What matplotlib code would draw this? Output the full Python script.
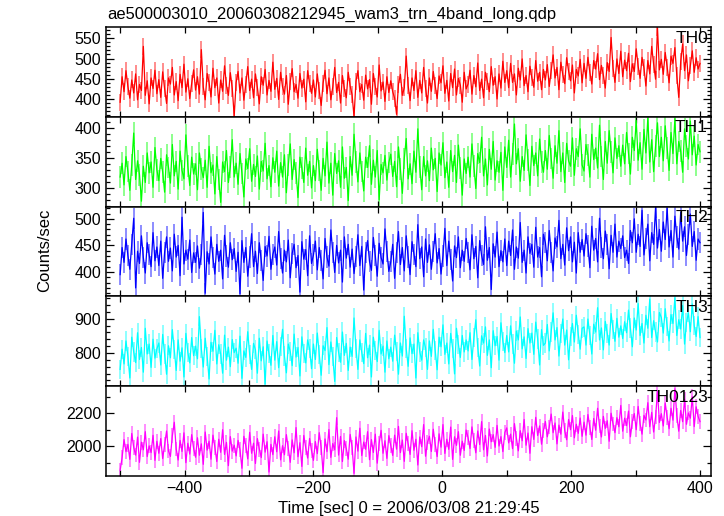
import matplotlib
matplotlib.use("Agg")
import matplotlib.pyplot as plt
from matplotlib.ticker import MultipleLocator
import numpy as np

plt.rcParams['font.family'] = ['Liberation Sans', 'DejaVu Sans']

title = "ae500003010_20060308212945_wam3_trn_4band_long.qdp"
bands = ["TH0", "TH1", "TH2", "TH3", "TH0123"]
colors = ["#ff0000", "#00ff00", "#0000ff", "#00ffff", "#ff00ff"]
light = ["#ff8c8c", "#8cff8c", "#8c8cff", "#8cffff", "#ff8cff"]

# time bins (sec from 2006/03/08 21:29:45), 3 s steps
t = np.arange(-500, 401, 3)

th0 = [392, 455, 418, 470, 431, 402, 447, 415, 462, 398, 436, 421, 530, 409, 445, 388, 452, 426, 471, 413,
       448, 404, 467, 425, 389, 452, 437, 478, 410, 443, 396, 461, 428, 486, 417, 450, 401, 439, 472, 422,
       455, 412, 522, 430, 398, 463, 441, 405, 476, 428, 452, 390, 447, 419, 482, 433, 409, 465, 426, 358,
       441, 468, 415, 452, 397, 437, 480, 421, 449, 403, 462, 428, 388, 455, 434, 473, 410, 446, 419, 491,
       424, 451, 399, 466, 430, 412, 458, 387, 443, 475, 418, 436, 402, 463, 427, 449, 393, 470, 438, 414,
       447, 405, 462, 420, 384, 439, 471, 413, 452, 398, 430, 478, 416, 441, 390, 458, 425, 403, 466, 432,
       410, 356, 444, 470, 418, 436, 397, 459, 425, 448, 387, 463, 431, 405, 484, 420, 442, 394, 455, 416,
       445, 418, 402, 362, 437, 461, 409, 428, 506, 433, 396, 452, 421, 470, 404, 446, 415, 478, 427, 390,
       452, 419, 468, 433, 401, 457, 440, 482, 414, 446, 395, 463, 428, 474, 410, 451, 434, 392, 466, 425,
       437, 471, 412, 458, 430, 489, 421, 449, 403, 466, 443, 418, 480, 434, 455, 400, 462, 427, 493, 441,
       470, 428, 488, 441, 462, 410, 476, 447, 499, 433, 458, 418, 481, 452, 429, 495, 444, 466, 423, 473,
       447, 485, 431, 470, 509, 452, 478, 423, 491, 460, 438, 502, 469, 445, 484, 415, 473, 457, 498, 440,
       488, 451, 503, 466, 437, 495, 474, 512, 448, 483, 459, 427, 490, 468, 552, 476, 441, 499, 463, 518,
       455, 496, 470, 513, 443, 487, 468, 524, 481, 451, 503, 477, 432, 495, 462, 530, 486, 449, 576, 472,
       498, 461, 515, 479, 440, 506, 488, 527, 457, 404, 492, 536, 470, 509, 445, 483, 519, 466, 502, 474,
       488]

th1 = [318, 341, 305, 352, 327, 296, 338, 391, 314, 345, 322, 278, 336, 309, 358, 325, 343, 301, 367, 330,
       312, 349, 326, 293, 355, 334, 308, 372, 320, 344, 298, 361, 329, 315, 388, 336, 304, 351, 323, 340,
       297, 358, 331, 317, 346, 301, 369, 325, 338, 290, 352, 314, 276, 343, 327, 362, 309, 335, 380, 318,
       341, 306, 357, 324, 285, 348, 332, 365, 311, 339, 319, 353, 298, 344, 328, 374, 315, 337, 302, 350,
       326, 361, 303, 342, 318, 355, 292, 338, 373, 314, 347, 325, 284, 351, 333, 309, 366, 321, 344, 300,
       337, 312, 364, 329, 296, 349, 320, 376, 308, 341, 288, 357, 324, 345, 301, 368, 316, 334, 279, 352,
       321, 389, 343, 310, 358, 327, 295, 351, 334, 370, 306, 346, 318, 362, 280, 339, 325, 354, 313, 342,
       356, 319, 344, 302, 368, 331, 291, 349, 382, 315, 340, 307, 361, 326, 398, 335, 297, 352, 320, 345,
       312, 366, 330, 349, 294, 358, 338, 375, 317, 343, 301, 362, 327, 354, 309, 371, 333, 288, 348, 324,
       351, 318, 373, 336, 299, 357, 342, 384, 320, 348, 305, 364, 331, 377, 313, 345, 326, 359, 296, 368,
       334, 379, 318, 356, 406, 340, 365, 311, 352, 329, 388, 346, 304, 369, 337, 358, 320, 381, 343, 326,
       362, 331, 387, 349, 316, 370, 341, 395, 327, 358, 309, 374, 345, 336, 383, 321, 365, 352, 398, 338,
       328, 372, 355, 318, 389, 347, 366, 333, 404, 352, 314, 377, 341, 395, 360, 325, 383, 349, 370, 336,
       371, 340, 392, 357, 323, 384, 362, 412, 346, 375, 331, 397, 358, 416, 343, 380, 327, 369, 408, 352,
       384, 345, 403, 366, 329, 392, 357, 415, 340, 377, 361, 326, 398, 370, 348, 411, 355, 386, 338, 372,
       360]

th2 = [395, 446, 418, 462, 431, 405, 452, 501, 370, 439, 416, 468, 427, 398, 455, 433, 410, 474, 421, 447,
       412, 458, 388, 437, 466, 420, 445, 402, 471, 428, 450, 393, 503, 415, 441, 424, 460, 399, 436, 418,
       449, 407, 433, 512, 360, 438, 415, 466, 427, 396, 452, 420, 441, 387, 469, 430, 409, 455, 423, 444,
       401, 437, 359, 459, 418, 446, 392, 428, 472, 410, 439, 397, 455, 421, 384, 448, 430, 467, 405, 433,
       447, 413, 476, 426, 398, 441, 419, 460, 389, 435, 452, 408, 431, 362, 457, 424, 442, 393, 468, 416,
       432, 458, 404, 446, 421, 387, 463, 428, 411, 479, 437, 399, 450, 417, 441, 381, 466, 426, 452, 409,
       443, 397, 429, 470, 412, 448, 366, 436, 459, 420, 403, 465, 431, 392, 454, 427, 415, 481, 438, 401,
       419, 452, 388, 437, 476, 414, 446, 402, 468, 428, 395, 457, 433, 410, 489, 425, 447, 391, 462, 418,
       451, 405, 439, 472, 417, 444, 396, 430, 482, 412, 458, 423, 383, 449, 427, 466, 408, 441, 420, 463,
       437, 404, 470, 425, 448, 389, 459, 431, 414, 485, 422, 446, 367, 453, 428, 475, 410, 440, 419, 462,
       412, 458, 431, 479, 405, 447, 426, 493, 418, 441, 398, 466, 435, 452, 409, 484, 428, 446, 391, 471,
       455, 421, 478, 436, 402, 464, 447, 497, 425, 452, 413, 483, 440, 466, 419, 456, 398, 474, 437, 461,
       430, 472, 449, 408, 486, 441, 463, 419, 501, 446, 425, 477, 452, 406, 469, 437, 490, 428, 458, 444,
       468, 427, 441, 416, 478, 455, 500, 437, 471, 448, 516, 432, 463, 490, 421, 474, 452, 522, 445, 480,
       439, 494, 461, 520, 447, 478, 428, 505, 466, 443, 512, 458, 485, 431, 470, 509, 448, 476, 422, 462,
       455]

th3 = [752, 811, 768, 835, 790, 727, 846, 803, 772, 859, 781, 816, 744, 872, 797, 826, 758, 840, 785, 812,
       829, 765, 854, 797, 738, 821, 786, 868, 809, 749, 838, 776, 815, 730, 857, 802, 771, 845, 792, 820,
       783, 906, 812, 759, 843, 790, 724, 831, 805, 866, 768, 824, 797, 741, 852, 779, 817, 760, 839, 801,
       814, 770, 849, 726, 806, 787, 862, 795, 752, 828, 809, 741, 843, 777, 818, 709, 835, 798, 764, 851,
       779, 833, 757, 820, 869, 791, 742, 826, 804, 763, 855, 788, 816, 733, 847, 799, 771, 838, 812, 754,
       826, 781, 858, 796, 735, 821, 807, 874, 766, 832, 789, 717, 845, 802, 773, 861, 793, 828, 749, 817,
       790, 902, 814, 752, 838, 801, 769, 857, 786, 823, 730, 846, 808, 775, 866, 797, 820, 744, 835, 783,
       817, 776, 852, 805, 738, 829, 791, 907, 812, 761, 844, 798, 826, 727, 859, 803, 779, 838, 815, 752,
       835, 790, 869, 807, 751, 846, 818, 882, 796, 829, 768, 857, 814, 739, 872, 825, 787, 851, 803, 838,
       806, 859, 781, 844, 897, 817, 762, 850, 829, 876, 793, 838, 757, 865, 821, 848, 779, 888, 834, 801,
       851, 803, 879, 826, 770, 864, 838, 905, 812, 847, 784, 871, 829, 858, 796, 890, 841, 765, 868, 822,
       829, 883, 806, 861, 917, 838, 874, 791, 856, 899, 823, 867, 780, 848, 886, 832, 910, 855, 811, 872,
       876, 823, 899, 852, 797, 884, 861, 932, 838, 873, 809, 892, 857, 823, 915, 868, 834, 901, 846, 879,
       842, 891, 859, 925, 873, 818, 902, 867, 944, 851, 886, 829, 910, 872, 957, 845, 894, 861, 832, 918,
       903, 858, 929, 877, 835, 912, 886, 961, 851, 897, 870, 938, 826, 889, 917, 862, 943, 880, 848, 906,
       845]

th0123 = [1855, 1932, 2041, 1968, 2012, 1921, 2078, 1994, 1947, 2056, 1903, 2025, 1979, 2089, 1938, 2003, 1962, 2067, 1915, 2031,
          1958, 2047, 1926, 2011, 2093, 1972, 1939, 2064, 2146, 1984, 1917, 2036, 1969, 2082, 1901, 2019, 1953, 2071, 1988, 1934,
          2052, 1946, 2015, 1891, 2087, 1977, 2031, 1922, 2068, 1995, 1908, 2043, 1964, 2101, 1951, 2024, 1883, 2059, 1971, 2007,
          1942, 2036, 1979, 1867, 2061, 2003, 1924, 2085, 1958, 2019, 1896, 2047, 1983, 1932, 2074, 1965, 2028, 1844, 2012, 1950,
          2058, 1967, 2093, 1918, 2004, 1949, 2071, 1986, 1903, 2039, 1961, 2114, 1937, 2022, 1878, 2066, 1992, 1929, 2048, 1974,
          1915, 2029, 1956, 2083, 1992, 1841, 2045, 1968, 2102, 1933, 2017, 1979, 2174, 1947, 2060, 1908, 2035, 1986, 1922, 2072,
          1995, 1836, 2057, 1971, 2110, 1944, 2026, 1982, 2089, 1919, 2041, 1963, 2074, 1898, 2018, 2097, 1958, 2034, 1927, 2065,
          2004, 1945, 2068, 1983, 2121, 1962, 2038, 1909, 2079, 2016, 1951, 2095, 1976, 2043, 1887, 2057, 1998, 2132, 1940, 2025,
          2061, 1969, 2104, 2012, 1938, 2076, 1995, 2132, 1957, 2043, 1982, 2117, 1921, 2058, 2006, 2089, 1946, 2031, 1975, 2099,
          2052, 1987, 2118, 2034, 1961, 2093, 2011, 2150, 1979, 2066, 1942, 2105, 2028, 2071, 1994, 2127, 2002, 2059, 1968, 2083,
          2112, 2021, 2074, 1986, 2138, 2049, 1973, 2095, 2034, 2163, 2007, 2081, 1958, 2119, 2042, 2176, 2066, 2124, 2013, 2097,
          2151, 2058, 2117, 2196, 2083, 2142, 2015, 2129, 2074, 2208, 2096, 2040, 2163, 2101, 2187, 2052, 2134, 2079, 2172, 2061,
          2147, 2068, 2193, 2116, 2042, 2169, 2098, 2231, 2124, 2057, 2182, 2109, 2155, 2031, 2201, 2136, 2083, 2174, 2119, 2248,
          2092, 2171, 2126, 2214, 2058, 2153, 2199, 2101, 2242, 2137, 2074, 2188, 2160, 2265, 2119, 2206, 2087, 2178, 2333, 2145,
          2198, 2124, 2263, 2176, 2107, 2231, 2159, 2349, 2186, 2092, 2218, 2150, 2285, 2134, 2203, 2171, 2301, 2120, 2240, 2182,
          2150]

series = [th0, th1, th2, th3, th0123]
errors = [21, 18, 20, 28, 45]
ylims = [(356, 578), (269, 418), (354, 523), (703, 965), (1820, 2365)]
ymajor = [50, 50, 50, 100, 200]
yminor = [10, 10, 10, 20, 100]

fig, axes = plt.subplots(5, 1, sharex=True, figsize=(7.24, 5.16), dpi=100)
fig.subplots_adjust(left=0.1464, right=0.982, top=0.9477, bottom=0.0775, hspace=0)

for i, ax in enumerate(axes):
    y = np.array(series[i], dtype=float)
    ax.errorbar(t, y, yerr=errors[i], fmt='none', ecolor=light[i], elinewidth=1.4, zorder=1)
    ax.plot(t, y, color=colors[i], lw=0.9, zorder=2)
    ax.set_ylim(*ylims[i])
    ax.set_xlim(-522, 417)
    ax.yaxis.set_major_locator(MultipleLocator(ymajor[i]))
    ax.yaxis.set_minor_locator(MultipleLocator(yminor[i]))
    ax.xaxis.set_major_locator(MultipleLocator(200))
    ax.xaxis.set_minor_locator(MultipleLocator(100))
    ax.tick_params(which='both', direction='in', top=True, right=True, labelsize=11.5, width=0.9)
    ax.tick_params(which='major', axis='y', length=6)
    ax.tick_params(which='minor', axis='y', length=3)
    ax.tick_params(which='both', axis='x', length=4.5)
    for s in ax.spines.values():
        s.set_linewidth(1.1)
    ax.text(0.995, 0.96, bands[i], transform=ax.transAxes, ha='right', va='top', fontsize=12.5)

axes[-1].set_xlabel("Time [sec] 0 = 2006/03/08 21:29:45", fontsize=12)
fig.text(0.062, 0.515, "Counts/sec", rotation=90, ha='center', va='center', fontsize=12)
fig.text(0.148, 0.972, title, ha='left', va='center', fontsize=11.9)

plt.savefig("out.png", dpi=100)
